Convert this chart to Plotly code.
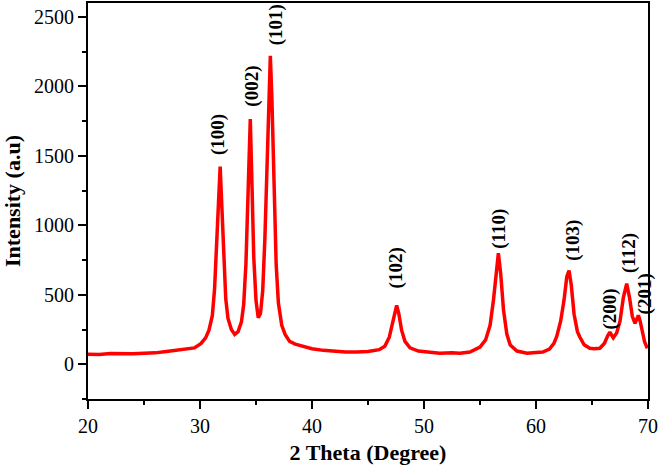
import plotly.graph_objects as go

two_theta = [20.0, 21.0, 22.0, 23.0, 24.0, 25.0, 26.0, 27.0, 28.0, 28.9, 29.5, 30.1, 30.5, 30.8,
             31.1, 31.3, 31.5, 31.65, 31.8, 31.95, 32.1, 32.3, 32.5, 32.8, 33.1, 33.4, 33.7, 33.9,
             34.1, 34.3, 34.49, 34.65, 34.8, 35.0, 35.2, 35.4, 35.6, 35.8, 36.0, 36.15, 36.28, 36.42,
             36.6, 36.8, 37.0, 37.3, 37.6, 38.0, 38.5, 39.0, 40.0, 41.0, 42.0, 43.0, 44.0, 45.0,
             46.0, 46.5, 46.9, 47.2, 47.4, 47.56, 47.75, 48.0, 48.3, 48.75, 49.5, 50.5, 51.4, 52.5,
             53.2, 54.1, 55.0, 55.5, 55.9, 56.2, 56.45, 56.64, 56.85, 57.1, 57.4, 57.7, 58.3, 59.2,
             60.0, 60.6, 61.2, 61.6, 61.85, 62.2, 62.5, 62.75, 62.95, 63.15, 63.4, 63.7, 63.9, 64.3,
             64.8, 65.2, 65.7, 66.1, 66.4, 66.6, 66.75, 66.9, 67.2, 67.5, 67.8, 68.1, 68.35, 68.6,
             68.84, 69.0, 69.14, 69.3, 69.5, 69.7, 69.94]
intensity = [72, 70, 78, 74, 76, 80, 82, 92, 100, 108, 118, 150, 190, 245,
             350, 540, 840, 1160, 1422, 1160, 780, 470, 330, 250, 215, 235, 305, 430,
             720, 1220, 1765, 1260, 770, 460, 335, 365, 530, 920, 1460, 1960, 2220, 1910,
             1220, 720, 440, 280, 215, 165, 145, 132, 112, 100, 92, 88, 88, 92,
             105, 130, 195, 300, 390, 424, 365, 245, 165, 118, 95, 85, 80, 82,
             80, 88, 124, 175, 280, 460, 690, 800, 650, 390, 215, 138, 95, 80,
             85, 88, 110, 150, 200, 310, 460, 630, 675, 570, 360, 235, 198, 140,
             115, 112, 115, 150, 205, 232, 210, 190, 225, 310, 480, 580, 480, 345,
             295, 330, 352, 310, 230, 160, 115]

# peak labels (Miller indices) and their label anchor positions
peak_labels = ["(100)", "(002)", "(101)", "(102)", "(110)", "(103)", "(200)", "(112)", "(201)"]
label_x = [31.61, 34.64, 36.79, 47.5, 56.7, 63.3, 66.6, 68.3, 69.73]
label_y = [1650, 2005, 2440, 690, 975, 895, 400, 800, 510]

x_ticks = [20, 30, 40, 50, 60, 70]
y_ticks = [0, 500, 1000, 1500, 2000, 2500]

FONT = "Liberation Serif, Times New Roman, serif"

fig = go.Figure()
fig.add_trace(go.Scatter(x=two_theta, y=intensity, mode="lines",
                         line=dict(color="#ff0000", width=3.5), showlegend=False,
                         hoverinfo="skip"))

for t, lx, ly in zip(peak_labels, label_x, label_y):
    fig.add_annotation(x=lx, y=ly, xref="x", yref="y", text="<b>" + t + "</b>",
                       showarrow=False, textangle=-90,
                       font=dict(family=FONT, size=19, color="black"))

axis_common = dict(showline=True, linecolor="black", linewidth=2, mirror=True,
                   ticks="outside", ticklen=8, tickwidth=2, tickcolor="black",
                   showgrid=False, zeroline=False, automargin=False,
                   tickfont=dict(family=FONT, size=20, color="black"))

fig.update_xaxes(range=[20, 70], tickvals=x_ticks,
                 minor=dict(ticks="outside", ticklen=4, tickwidth=2, tickcolor="black", dtick=5, tick0=0),
                 title=dict(text="<b>2 Theta (Degree)</b>", standoff=10,
                            font=dict(family=FONT, size=22, color="black")),
                 **axis_common)
fig.update_yaxes(range=[-250, 2600], tickvals=y_ticks,
                 minor=dict(ticks="outside", ticklen=4, tickwidth=2, tickcolor="black", dtick=250, tick0=0),
                 title=dict(text="<b>Intensity (a.u)</b>", standoff=8,
                            font=dict(family=FONT, size=22, color="black")),
                 **axis_common)

fig.update_layout(width=661, height=465, margin=dict(l=88, r=13, t=3, b=66, autoexpand=False),
                  paper_bgcolor="white", plot_bgcolor="white")

fig.write_html("out.html", config={"displayModeBar": False},
               post_script="document.body.style.margin='0';document.body.style.overflow='hidden';")
